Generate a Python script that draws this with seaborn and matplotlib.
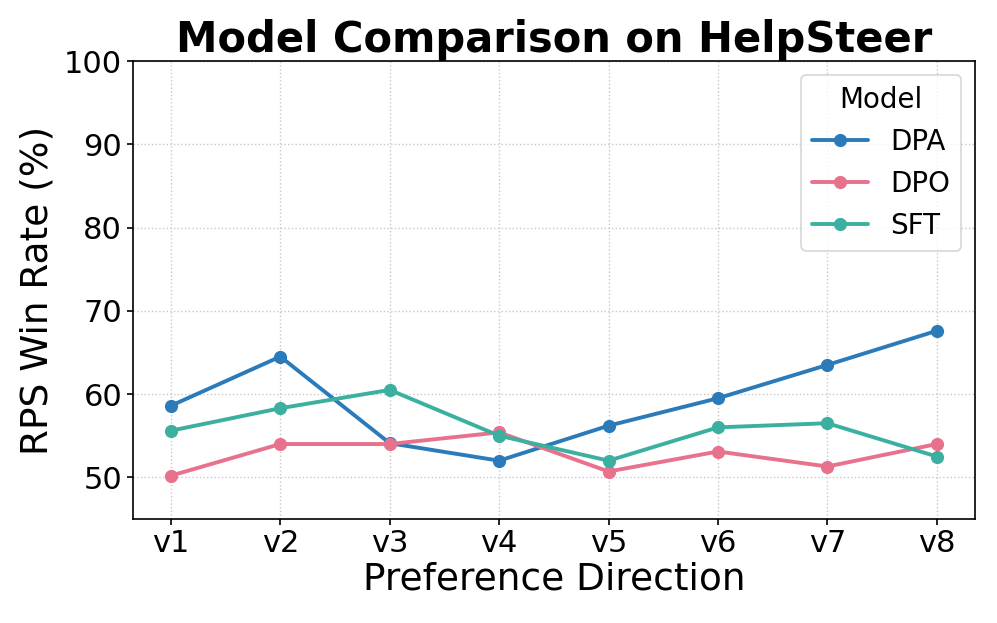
import pandas as pd
import numpy as np
import matplotlib.pyplot as plt
import seaborn as sns

directions = ['v1', 'v2', 'v3', 'v4', 'v5', 'v6', 'v7', 'v8']
dpa = [58.6, 64.5, 54.1, 52.0, 56.2, 59.5, 63.5, 67.6]
dpo = [50.2, 54.0, 54.0, 55.4, 50.7, 53.1, 51.3, 54.0]
sft = [55.6, 58.3, 60.5, 55.0, 52.0, 56.0, 56.5, 52.5]

df = pd.DataFrame({
    'Preference Direction': directions * 3,
    'Win Rate': dpa + dpo + sft,
    'Model': ['DPA'] * 8 + ['DPO'] * 8 + ['SFT'] * 8,
})

sns.set_style('ticks')
plt.rcParams['font.family'] = ['DejaVu Sans']
plt.rcParams.update({'text.color': 'black', 'axes.labelcolor': 'black',
                     'xtick.color': 'black', 'ytick.color': 'black'})

colores = {'DPA': '#2b7bba', 'DPO': '#e8718c', 'SFT': '#3cb0a0'}

fig, ax = plt.subplots(figsize=(9.97, 6.23), dpi=100)
sns.lineplot(data=df, x='Preference Direction', y='Win Rate', hue='Model',
             palette=colores, marker='o', linewidth=2.8, ax=ax)
# tamaño de marcadores
for ln in ax.lines:
    ln.set_markersize(9.5)
    ln.set_markeredgewidth(0)

ax.set_ylim(45, 100)
ax.set_yticks([50, 60, 70, 80, 90, 100])
ax.grid(True, linestyle=':', color='#c8c8c8', linewidth=1)
ax.set_title('Model Comparison on HelpSteer', fontsize=30, fontweight='bold')
ax.set_xlabel('Preference Direction', fontsize=27, labelpad=2)
ax.set_ylabel('RPS Win Rate (%)', fontsize=27, labelpad=6)
ax.tick_params(labelsize=22, width=1.2, length=4)
for s in ax.spines.values():
    s.set_linewidth(1.2)
    s.set_color('black')

leg = ax.legend(title='Model', fontsize=20, title_fontsize=20, loc='upper right')
leg.get_frame().set_linewidth(1.2)
for h in leg.legend_handles:
    h.set_markersize(9.5)
    h.set_markeredgewidth(0)
    h.set_linewidth(2.8)

plt.subplots_adjust(left=0.133, right=0.978, top=0.902, bottom=0.167)
plt.savefig('out.png', dpi=100)
